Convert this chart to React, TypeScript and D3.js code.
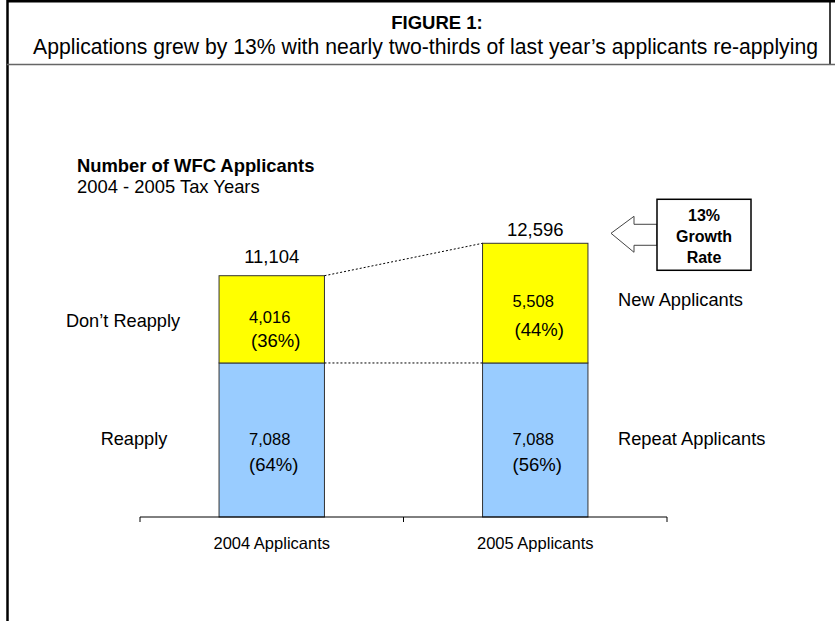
import React from "react";
import * as d3 from "d3";

// Data
const CATEGORIES = ["2004 Applicants", "2005 Applicants"];
const REPEAT = [7088, 7088];
const NEW = [4016, 5508];
const REPEAT_PCT = ["(64%)", "(56%)"];
const NEW_PCT = ["(36%)", "(44%)"];
const LEFT_LABELS = ["Don\u2019t Reapply", "Reapply"];
const RIGHT_LABELS = ["New Applicants", "Repeat Applicants"];
const GROWTH_LINES = ["13%", "Growth", "Rate"];

// Geometry
const WIDTH = 835;
const HEIGHT = 621;
const FONT = "'Liberation Sans', Arial, sans-serif";
const NARROW = "'Liberation Sans Narrow', 'Arial Narrow', 'Liberation Sans', Arial, sans-serif";
const AXIS_Y = 517;

const fmt = d3.format(",");

export default function App() {
  const rows = CATEGORIES.map((c, i) => ({ cat: c, repeat: REPEAT[i], fresh: NEW[i] }));
  const stack = d3.stack<any>().keys(["repeat", "fresh"]);
  const series = stack(rows);
  const totals = rows.map((r) => r.repeat + r.fresh);

  const x = d3.scaleBand<string>()
    .domain(CATEGORIES)
    .range([140, 667])
    .paddingInner(0.6)
    .paddingOuter(0.3);
  const y = d3.scaleLinear().domain([0, 14000]).range([AXIS_Y, AXIS_Y - 0.02173 * 14000]);

  const colors = ["#99CCFF", "#FFFF00"];
  const bw = x.bandwidth();
  const x0 = x(CATEGORIES[0])!;
  const x1 = x(CATEGORIES[1])!;
  const cx = (c: string) => x(c)! + bw / 2;

  // tick positions at band boundaries
  const step = x.step();
  const tickXs = [0, 1, 2].map((k) => 140 + k * step);

  // callout arrow, anchored to the 2005 total
  const tipY = y(totals[1]) - 10;
  const boxL = 657, boxR = 751, boxT = tipY - 34, boxB = tipY + 37;
  const arrow = [
    [boxL, tipY - 9], [634, tipY - 9], [634, tipY - 17], [611, tipY],
    [634, tipY + 19], [634, tipY + 12], [boxL, tipY + 12]
  ];

  return (
    <svg width={WIDTH} height={HEIGHT} style={{ position: "absolute", left: 0, top: 0, background: "#fff" }}
      fontFamily={FONT}>
      {/* frame */}
      <line x1={7} y1={1} x2={835} y2={1} stroke="#000" strokeWidth={3} />
      <line x1={7.5} y1={0} x2={7.5} y2={621} stroke="#000" strokeWidth={2.5} />
      <line x1={830} y1={0} x2={830} y2={64} stroke="#000" strokeWidth={1.5} />
      <line x1={7} y1={64.5} x2={835} y2={64.5} stroke="#666" strokeWidth={1.5} />

      <text x={437} y={29} textAnchor="middle" fontWeight="bold" fontSize={18.5}>FIGURE 1:</text>
      <text x={425.5} y={54} textAnchor="middle" fontSize={21.5} fontFamily={NARROW}
        textLength={785} lengthAdjust="spacingAndGlyphs">
        Applications grew by 13% with nearly two-thirds of last year’s applicants re-applying
      </text>

      <text x={77} y={172} fontWeight="bold" fontSize={18.4}>Number of WFC Applicants</text>
      <text x={77} y={193} fontSize={18.4}>2004 - 2005 Tax Years</text>

      {/* bars */}
      {series.map((s, si) =>
        s.map((d, i) => (
          <rect key={si + "-" + i}
            x={x(CATEGORIES[i])} y={y(d[1])}
            width={bw} height={y(d[0]) - y(d[1])}
            fill={colors[si]} stroke="#333" strokeWidth={1} />
        ))
      )}

      {/* connectors */}
      <line x1={x0 + bw} y1={y(totals[0])} x2={x1} y2={y(totals[1])}
        stroke="#000" strokeWidth={1} strokeDasharray="2,2" />
      <line x1={x0 + bw} y1={y(REPEAT[0])} x2={x1} y2={y(REPEAT[1])}
        stroke="#000" strokeWidth={1} strokeDasharray="2,2" />

      {/* totals */}
      {totals.map((t, i) => (
        <text key={"t" + i} x={cx(CATEGORIES[i])} y={y(t) - (i === 0 ? 13 : 7)}
          textAnchor="middle" fontSize={18.5}>{fmt(t)}</text>
      ))}

      {/* segment labels */}
      {CATEGORIES.map((c, i) => {
        const midNew = (y(REPEAT[i]) + y(totals[i])) / 2;
        const midRep = (y(0) + y(REPEAT[i])) / 2;
        return (
          <g key={"s" + i}>
            <text x={cx(c) - 2} y={midNew + (i === 0 ? 4 : 4)} textAnchor="middle" fontSize={16.5}>{fmt(NEW[i])}</text>
            <text x={cx(c) + 4} y={midNew + (i === 0 ? 28 : 33)} textAnchor="middle" fontSize={18.5}>{NEW_PCT[i]}</text>
            <text x={cx(c) - 2} y={midRep + 5} textAnchor="middle" fontSize={16.5}>{fmt(REPEAT[i])}</text>
            <text x={cx(c) + 2} y={midRep + 31} textAnchor="middle" fontSize={18.5}>{REPEAT_PCT[i]}</text>
          </g>
        );
      })}

      {/* side labels */}
      <text x={123} y={(y(REPEAT[0]) + y(totals[0])) / 2 + 8} textAnchor="middle" fontSize={18.2}>{LEFT_LABELS[0]}</text>
      <text x={134} y={(y(0) + y(REPEAT[0])) / 2 + 5} textAnchor="middle" fontSize={18.2}>{LEFT_LABELS[1]}</text>
      <text x={618} y={(y(REPEAT[1]) + y(totals[1])) / 2 + 3} fontSize={18.3}>{RIGHT_LABELS[0]}</text>
      <text x={618} y={(y(0) + y(REPEAT[1])) / 2 + 5} fontSize={18.3}>{RIGHT_LABELS[1]}</text>

      {/* axis */}
      <line x1={tickXs[0]} y1={AXIS_Y} x2={tickXs[2]} y2={AXIS_Y} stroke="#000" strokeWidth={1} />
      {tickXs.map((tx, k) => (
        <line key={"k" + k} x1={tx} y1={AXIS_Y} x2={tx} y2={AXIS_Y + 5} stroke="#000" strokeWidth={1} />
      ))}
      {CATEGORIES.map((c) => (
        <text key={c} x={cx(c)} y={549} textAnchor="middle" fontSize={16.5}>{c}</text>
      ))}

      {/* growth callout */}
      <polygon points={arrow.map((p) => p.join(",")).join(" ")} fill="#fff" stroke="#444" strokeWidth={1} />
      <rect x={boxL} y={boxT} width={boxR - boxL} height={boxB - boxT} fill="#fff" stroke="#000" strokeWidth={1.5} />
      {GROWTH_LINES.map((s, k) => (
        <text key={s} x={(boxL + boxR) / 2} y={boxT + 22 + k * 21} textAnchor="middle"
          fontWeight="bold" fontSize={16}>{s}</text>
      ))}
    </svg>
  );
}
